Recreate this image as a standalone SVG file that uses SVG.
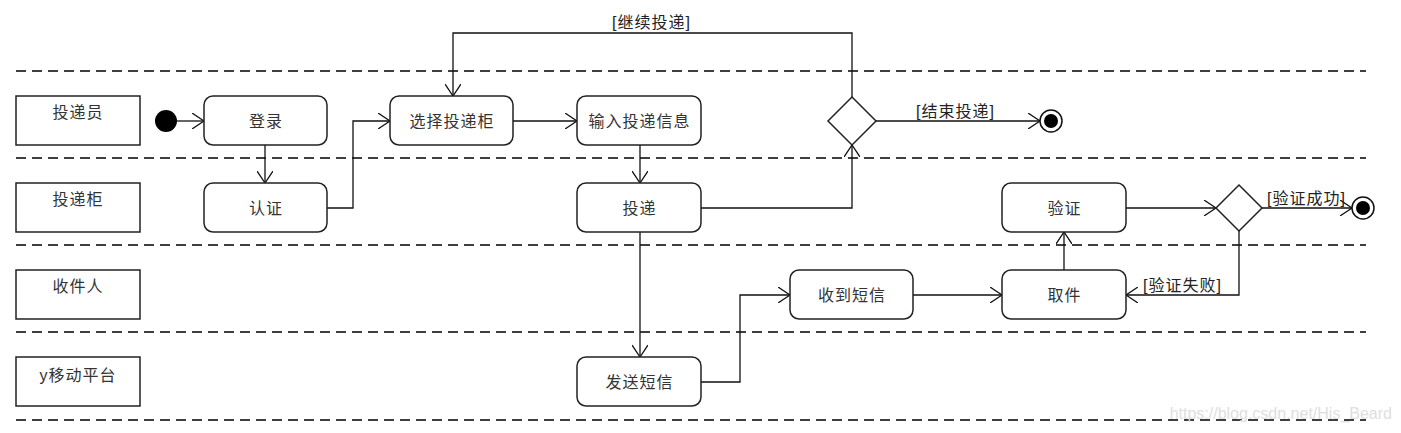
<svg xmlns="http://www.w3.org/2000/svg" width="1401" height="433" viewBox="0 0 1401 433">
<style>
.lane{fill:none;stroke:#000;stroke-width:1.5;stroke-dasharray:10 6}
.lb{fill:#fff;stroke:#222;stroke-width:1.5}
.act{fill:#fff;stroke:#222;stroke-width:1.5}
.t{font-family:"Liberation Sans","Noto Sans CJK SC",sans-serif;font-size:16px;letter-spacing:1px;fill:#333;text-anchor:middle}
.g{font-family:"Liberation Sans","Noto Sans CJK SC",sans-serif;font-size:16px;letter-spacing:1px;fill:#222}
.c{fill:none;stroke:#111;stroke-width:1.3;marker-end:url(#oa)}
</style>
<defs>
<marker id="oa" viewBox="0 0 12 16" refX="12" refY="8" markerWidth="12" markerHeight="16" markerUnits="userSpaceOnUse" orient="auto">
<path d="M0,0 L12,8 L0,16" fill="none" stroke="#111" stroke-width="1.3"/>
</marker>
</defs>
<rect width="1401" height="433" fill="#fff"/>
<g id="lanes">
<line class="lane" x1="16" y1="71" x2="1366" y2="71"/>
<line class="lane" x1="16" y1="158" x2="1366" y2="158"/>
<line class="lane" x1="16" y1="245" x2="1366" y2="245"/>
<line class="lane" x1="16" y1="332" x2="1366" y2="332"/>
<line class="lane" x1="16" y1="420" x2="1366" y2="420"/>
</g>
<g id="lane-投递员"><rect class="lb" x="16" y="96" width="124" height="49"/><text class="t" x="78" y="118">投递员</text></g>
<g id="lane-投递柜"><rect class="lb" x="16" y="183" width="124" height="49"/><text class="t" x="78" y="205">投递柜</text></g>
<g id="lane-收件人"><rect class="lb" x="16" y="270" width="124" height="49"/><text class="t" x="78" y="292">收件人</text></g>
<g id="lane-平台"><rect class="lb" x="16" y="357" width="124" height="49"/><text class="t" x="78" y="381">y移动平台</text></g>

<g id="connectors">
<line class="c" x1="177" y1="121" x2="204" y2="121"/>
<line class="c" x1="265" y1="145" x2="265" y2="183"/>
<polyline class="c" points="327,208 353,208 353,121 390,121"/>
<line class="c" x1="513" y1="121" x2="577" y2="121"/>
<line class="c" x1="640" y1="145" x2="640" y2="183"/>
<polyline class="c" points="701,208 852,208 852,145"/>
<polyline class="c" points="852,97 852,33 453,33 453,96"/>
<line class="c" x1="876" y1="121" x2="1040" y2="121"/>
<line class="c" x1="640" y1="232" x2="640" y2="357"/>
<polyline class="c" points="701,382 740,382 740,295 790,295"/>
<line class="c" x1="913" y1="295" x2="1002" y2="295"/>
<line class="c" x1="1064" y1="270" x2="1064" y2="232"/>
<line class="c" x1="1126" y1="208" x2="1216" y2="208"/>
<line class="c" x1="1262" y1="208" x2="1352" y2="208"/>
<polyline class="c" points="1239,231 1239,295 1126,295"/>
<text class="g" x="612" y="28">[继续投递]</text>
<text class="g" x="916" y="117">[结束投递]</text>
<text class="g" x="1267" y="204">[验证成功]</text>
<text class="g" x="1143" y="291">[验证失败]</text>
</g>

<g id="start"><circle cx="166" cy="121" r="11" fill="#000"/></g>
<g id="登录"><rect class="act" x="204" y="96" width="123" height="49" rx="9"/><text class="t" x="266" y="127">登录</text></g>
<g id="认证"><rect class="act" x="204" y="183" width="123" height="49" rx="9"/><text class="t" x="266" y="214">认证</text></g>
<g id="选择投递柜"><rect class="act" x="390" y="96" width="123" height="49" rx="9"/><text class="t" x="452" y="127">选择投递柜</text></g>
<g id="输入投递信息"><rect class="act" x="577" y="96" width="124" height="49" rx="9"/><text class="t" x="639.5" y="127">输入投递信息</text></g>
<g id="投递"><rect class="act" x="577" y="183" width="124" height="49" rx="9"/><text class="t" x="639.5" y="214">投递</text></g>
<g id="发送短信"><rect class="act" x="577" y="357" width="124" height="49" rx="9"/><text class="t" x="639.5" y="388">发送短信</text></g>
<g id="收到短信"><rect class="act" x="790" y="270" width="123" height="49" rx="9"/><text class="t" x="852" y="301">收到短信</text></g>
<g id="取件"><rect class="act" x="1002" y="270" width="124" height="49" rx="9"/><text class="t" x="1064.5" y="301">取件</text></g>
<g id="验证"><rect class="act" x="1002" y="183" width="124" height="49" rx="9"/><text class="t" x="1064.5" y="214">验证</text></g>
<g id="decision1"><polygon class="act" points="852,97 876,121 852,145 828,121"/></g>
<g id="decision2"><polygon class="act" points="1239,185 1262,208 1239,231 1216,208"/></g>
<g id="end1"><circle cx="1051" cy="121" r="11" fill="#fff" stroke="#111" stroke-width="1.5"/><circle cx="1051" cy="121" r="7" fill="#000"/></g>
<g id="end2"><circle cx="1363" cy="208" r="11" fill="#fff" stroke="#111" stroke-width="1.5"/><circle cx="1363" cy="208" r="7" fill="#000"/></g>
<text x="1392" y="419" font-family="Liberation Sans, sans-serif" font-size="16" fill="#dedede" text-anchor="end">https://blog.csdn.net/His_Beard</text>
</svg>
